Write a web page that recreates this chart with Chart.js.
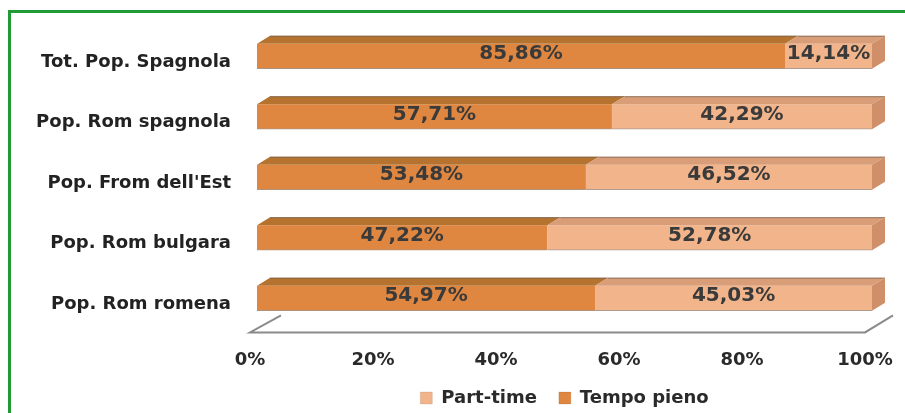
<!DOCTYPE html>
<html>
<head>
<meta charset="utf-8">
<script src="https://cdn.jsdelivr.net/npm/chart.js@4.4.0/dist/chart.umd.min.js"></script>
<style>
  html, body { margin: 0; padding: 0; background: #fff; overflow: hidden; }
  #frame { position: absolute; left: 8px; top: 10px; width: 1200px; height: 800px;
           border-left: 3px solid #1f9a35; border-top: 3px solid #1f9a35; }
  #wrap { position: absolute; left: 0; top: 0; }
</style>
</head>
<body>
<div id="frame"></div>
<div id="wrap"><canvas id="myChart" width="905" height="417"></canvas></div>
<script>
const categories = ["Tot. Pop. Spagnola", "Pop. Rom spagnola", "Pop. From dell'Est", "Pop. Rom bulgara", "Pop. Rom romena"];
const tempoPieno = [85.86, 57.71, 53.48, 47.22, 54.97];
const partTime = [14.14, 42.29, 46.52, 52.78, 45.03];
const xTicks = [0, 20, 40, 60, 80, 100];

const FONT = "'DejaVu Sans', sans-serif";
const DX = 13, DY = 8;

function pct(v) {
    return v.toFixed(2).replace('.', ',') + '%';
}

// top / side faces of the bars, plus the value labels
const bar3d = {
    id: 'bar3d',
    afterDatasetsDraw(chart) {
        const ctx = chart.ctx;
        const n = chart.data.datasets.length;
        ctx.save();
        chart.data.datasets.forEach((ds, i) => {
            const meta = chart.getDatasetMeta(i);
            meta.data.forEach((bar) => {
                const p = bar.getProps(['x', 'y', 'base', 'height'], true);
                const top = p.y - p.height / 2, bottom = p.y + p.height / 2;
                const l = Math.min(p.base, p.x), r = Math.max(p.base, p.x);
                ctx.fillStyle = ds.topColor;
                ctx.beginPath();
                ctx.moveTo(l, top);
                ctx.lineTo(l + DX, top - DY);
                ctx.lineTo(r + DX, top - DY);
                ctx.lineTo(r, top);
                ctx.closePath();
                ctx.fill();
                ctx.strokeStyle = 'rgba(110,95,85,0.7)';
                ctx.lineWidth = 1;
                ctx.beginPath();
                ctx.moveTo(l + DX, top - DY + 0.5);
                ctx.lineTo(r + DX, top - DY + 0.5);
                ctx.stroke();
                if (i === n - 1) {
                    ctx.fillStyle = ds.sideColor;
                    ctx.beginPath();
                    ctx.moveTo(r, top);
                    ctx.lineTo(r + DX, top - DY);
                    ctx.lineTo(r + DX, bottom - DY);
                    ctx.lineTo(r, bottom);
                    ctx.closePath();
                    ctx.fill();
                }
            });
        });
        ctx.font = 'bold 20px ' + FONT;
        ctx.fillStyle = '#3a3a3a';
        ctx.textAlign = 'center';
        ctx.textBaseline = 'middle';
        chart.data.datasets.forEach((ds, i) => {
            chart.getDatasetMeta(i).data.forEach((bar, j) => {
                const p = bar.getProps(['x', 'y', 'base'], true);
                ctx.fillText(pct(ds.data[j]), (p.x + p.base) / 2, p.y - 2);
            });
        });
        // floor
        const xs = chart.scales.x;
        const fy = chart.chartArea.bottom + 4;
        const x0 = xs.getPixelForValue(0) - 7, x1 = xs.getPixelForValue(100) - 7;
        ctx.strokeStyle = '#8a8a8a';
        ctx.lineWidth = 2;
        ctx.beginPath();
        ctx.moveTo(x0 + 31, fy - 17);
        ctx.lineTo(x0, fy);
        ctx.lineTo(x1, fy);
        ctx.lineTo(x1 + 28, fy - 17);
        ctx.stroke();
        ctx.restore();
    }
};

const ctx = document.getElementById("myChart").getContext("2d");
new Chart(ctx, {
    type: 'bar',
    data: {
        labels: categories,
        datasets: [{
            label: 'Tempo pieno',
            data: tempoPieno,
            backgroundColor: '#df8741',
            topColor: '#b5732f',
            sideColor: '#b5732f',
            borderColor: 'rgba(120,75,40,0.6)',
            borderWidth: {top: 0, left: 0, right: 0, bottom: 1},
            borderSkipped: false,
            barThickness: 25
        }, {
            label: 'Part-time',
            data: partTime,
            backgroundColor: '#f2b48a',
            topColor: '#d99d78',
            sideColor: '#cf8f68',
            borderColor: 'rgba(120,90,70,0.6)',
            borderWidth: {top: 0, left: 0, right: 0, bottom: 1},
            borderSkipped: false,
            barThickness: 25
        }]
    },
    options: {
        indexAxis: 'y',
        responsive: false,
        animation: false,
        layout: { padding: { left: 0, right: 33, top: 26, bottom: 0 } },
        scales: {
            x: {
                stacked: true,
                min: 0,
                max: 100,
                afterBuildTicks: s => { s.ticks = xTicks.map(v => ({ value: v })); },
                afterFit: s => { s.height = 38.6; s.paddingLeft = 0; s.paddingRight = 0; },
                grid: { display: false, drawTicks: false },
                border: { display: false },
                ticks: {
                    callback: v => v + '%',
                    padding: 21,
                    labelOffset: -7,
                    maxRotation: 0,
                    color: '#2a2a2a',
                    font: { family: FONT, size: 18, weight: 'bold' }
                }
            },
            y: {
                stacked: true,
                afterFit: s => { s.width = 257; s.paddingTop = 0; s.paddingBottom = 0; },
                grid: { display: false, drawTicks: false },
                border: { display: false },
                ticks: {
                    padding: 26,
                    labelOffset: 6,
                    color: '#222',
                    font: { family: FONT, size: 18, weight: 'bold' }
                }
            }
        },
        plugins: {
            legend: {
                position: 'bottom',
                fullSize: false,
                reverse: true,
                labels: {
                    boxWidth: 12,
                    boxHeight: 12,
                    padding: 22,
                    color: '#2a2a2a',
                    font: { family: FONT, size: 18, weight: 'bold' }
                }
            },
            tooltip: { enabled: false }
        }
    },
    plugins: [bar3d]
});
</script>
</body>
</html>
